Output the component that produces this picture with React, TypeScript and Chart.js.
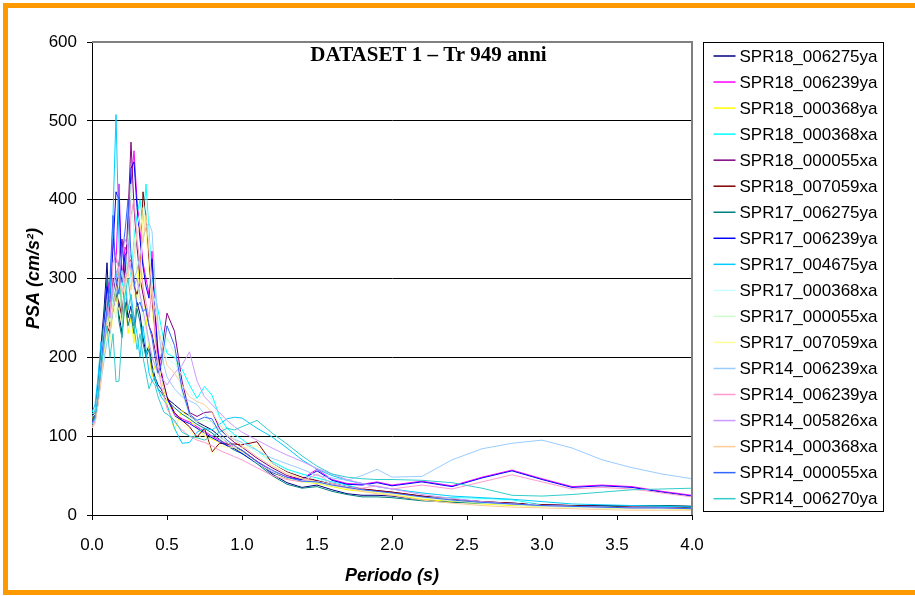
import { useEffect, useRef } from "react";
import { Chart, registerables } from "chart.js";
Chart.register(...registerables);

const chartTitle = "DATASET 1 – Tr 949 anni";
const xTitle = "Periodo (s)";
const yTitle = "PSA (cm/s²)";

const periods = [
  0, 0.02, 0.04, 0.06, 0.08, 0.1, 0.12, 0.14, 0.16, 0.18, 0.2, 0.22, 0.24, 0.26, 0.28, 0.3, 0.32, 0.34, 0.36, 0.38, 0.4, 0.42, 0.44, 0.46, 0.48, 0.5,
  0.55, 0.6, 0.65, 0.7, 0.75, 0.8, 0.85, 0.9, 0.95, 1.0,
  1.1, 1.2, 1.3, 1.4, 1.5, 1.6, 1.7, 1.8, 1.9, 2.0,
  2.2, 2.4, 2.6, 2.8, 3.0, 3.2, 3.4, 3.6, 3.8, 4.0,
];

const seriesNames = [
  "SPR18_006275ya", "SPR18_006239ya", "SPR18_000368ya", "SPR18_000368xa", "SPR18_000055xa", "SPR18_007059xa",
  "SPR17_006275ya", "SPR17_006239ya", "SPR17_004675ya", "SPR17_000368xa", "SPR17_000055xa", "SPR17_007059xa",
  "SPR14_006239xa", "SPR14_006239ya", "SPR14_005826xa", "SPR14_000368xa", "SPR14_000055xa", "SPR14_006270ya",
];

const seriesColors = [
  "#000080", "#FF00FF", "#FFFF00", "#00FFFF", "#800080", "#800000",
  "#008080", "#0000FF", "#00CCFF", "#CCFFFF", "#CCFFCC", "#FFFF99",
  "#99CCFF", "#FF99CC", "#CC99FF", "#FFCC99", "#3366FF", "#33CCCC",
];

const spr18_006275ya = [125,130,165,215,260,320,240,275,300,255,230,285,250,265,240,270,255,225,205,215,190,175,165,160,152,148, 140,132,126,118,113,108,100,92,86,82, 68,52,41,35,38,32,27,25,25,24, 19,17,16,15,13,12,12,12,12,11];
const spr18_006239ya = [118,125,150,190,240,300,280,350,320,420,300,340,330,420,462,400,360,320,300,280,335,260,210,185,165,150, 128,122,118,112,106,100,95,90,86,80, 68,55,48,46,58,45,40,39,42,38, 43,37,48,57,46,36,38,36,30,25];
const spr18_000368ya = [122,128,150,180,220,260,240,290,270,320,250,280,230,250,218,280,330,290,250,210,175,190,184,175,159,140, 108,133,120,110,100,96,92,88,84,80, 66,54,46,42,40,36,32,30,28,26, 20,17,14,12,11,10,9,8,8,7];
const spr18_000368xa = [128,132,160,200,240,270,250,280,300,320,290,310,330,300,350,380,400,370,420,360,300,280,260,240,220,205, 200,185,165,148,163,152,125,110,102,96, 82,68,58,52,47,42,38,33,30,28, 23,22,21,19,13,11,10,9,9,8];
const spr18_000055xa = [120,128,155,195,230,260,250,300,280,320,350,300,380,473,390,340,300,280,260,240,230,210,190,200,230,256, 233,170,130,125,130,131,110,100,92,86, 72,60,50,45,44,40,36,33,31,29, 24,20,17,15,13,12,11,10,10,9];
const spr18_007059xa = [118,125,150,180,215,240,230,260,280,270,250,300,320,324,290,280,294,410,380,320,270,230,200,180,165,150, 130,120,112,99,110,80,91,90,90,89, 93,66,55,48,44,40,36,33,31,29, 24,20,17,15,13,12,11,10,10,9];
const spr17_006275ya = [120,126,160,205,250,300,230,265,290,245,225,270,240,255,230,262,245,218,200,210,185,170,160,156,150,145, 136,128,122,115,110,104,96,88,82,78, 65,50,39,34,36,30,26,23,23,22, 18,16,15,14,12,11,11,12,12,11];
const spr17_006239ya = [116,122,148,185,235,290,270,340,410,400,295,330,335,440,448,390,350,315,290,275,325,255,205,180,160,148, 126,120,116,110,104,98,93,88,84,78, 66,54,47,45,56,44,39,38,41,37, 42,36,47,56,45,35,37,35,29,24];
const spr17_004675ya = [130,140,175,220,200,250,280,380,508,350,240,300,260,280,250,230,200,240,210,180,170,175,160,150,145,140, 110,91,92,105,110,108,115,122,124,123, 110,99,85,70,58,50,44,40,36,33, 28,24,22,20,17,14,13,12,11,10];
const spr17_000368xa = [125,128,155,195,235,265,245,275,295,315,285,300,320,295,340,365,385,360,400,350,290,270,250,232,212,198, 192,178,158,142,156,146,120,106,98,92, 79,66,56,50,45,40,36,32,29,27, 22,21,20,18,12,10,9,9,8,8];
const spr17_000055xa = [112,118,140,175,205,235,225,270,250,290,310,275,340,420,350,305,270,250,235,215,205,190,175,180,205,225, 205,155,125,118,120,118,100,92,86,80, 66,55,47,42,41,37,34,31,29,27, 22,18,15,13,11,10,9,9,8,8];
const spr17_007059xa = [115,120,145,175,205,230,220,250,270,260,240,290,305,310,280,270,285,390,360,305,260,220,195,175,160,145, 125,116,108,96,105,78,88,86,86,85, 88,63,52,46,42,38,34,31,29,27, 22,19,16,14,12,11,10,9,9,8];
const spr14_006239xa = [112,118,140,170,195,220,230,260,280,300,310,290,320,330,300,310,330,350,365,370,360,300,240,210,190,175, 160,150,145,140,128,118,108,100,96,92, 82,72,65,58,50,47,44,50,58,48, 49,70,84,91,95,85,70,60,52,46];
const spr14_006239ya = [112,118,140,175,220,270,250,320,330,310,280,300,310,380,400,350,320,290,270,250,290,230,190,165,150,135, 118,108,100,95,92,88,82,78,74,70, 60,50,45,42,52,40,35,34,37,33, 38,33,42,51,42,33,35,33,28,23];
const spr14_005826xa = [115,120,145,180,220,260,250,290,310,300,330,350,340,310,290,300,280,260,240,220,200,190,180,175,170,165, 180,190,207,170,150,140,130,120,112,105, 95,85,76,68,59,52,45,40,36,33, 26,21,17,14,12,11,10,9,9,8];
const spr14_000368xa = [110,115,140,170,210,245,235,265,285,300,280,290,310,285,330,355,370,345,380,335,280,260,240,222,205,190, 180,165,150,144,140,130,115,102,95,88, 74,62,52,46,42,38,34,30,27,25, 19,15,12,10,9,8,7,6,6,6];
const spr14_000055xa = [118,124,150,190,230,260,300,380,300,280,330,360,400,330,300,264,270,258,262,240,225,200,180,190,215,240, 215,160,128,120,124,122,104,95,88,82, 68,57,48,43,42,38,35,32,30,28, 23,19,16,14,12,11,10,9,9,8];
const spr14_006270ya = [115,122,150,185,215,240,200,230,169,170,230,280,300,270,240,210,230,200,180,160,170,165,150,140,130,128, 120,105,100,98,95,100,105,110,108,112, 120,104,90,75,62,52,48,46,45,45, 44,41,34,25,24,26,29,32,33,34];

const seriesValues = [
  spr18_006275ya, spr18_006239ya, spr18_000368ya, spr18_000368xa, spr18_000055xa, spr18_007059xa,
  spr17_006275ya, spr17_006239ya, spr17_004675ya, spr17_000368xa, spr17_000055xa, spr17_007059xa,
  spr14_006239xa, spr14_006239ya, spr14_005826xa, spr14_000368xa, spr14_000055xa, spr14_006270ya,
];

const FONT = '"Liberation Sans", Arial, sans-serif';

const decorPlugin = {
  id: "decor",
  afterDraw(chart: any) {
    const ctx = chart.ctx as CanvasRenderingContext2D;
    const a = chart.chartArea;
    ctx.save();
    ctx.strokeStyle = "#808080";
    ctx.lineWidth = 2;
    ctx.beginPath();
    ctx.moveTo(a.left, a.top);
    ctx.lineTo(a.right, a.top);
    ctx.lineTo(a.right, a.bottom);
    ctx.stroke();
    ctx.fillStyle = "#000";
    ctx.font = 'bold 21px "Liberation Serif", "Times New Roman", serif';
    ctx.textAlign = "center";
    ctx.textBaseline = "middle";
    ctx.fillText(chartTitle, a.left + 336.5, a.top + 14);
    const lx = a.right + 11.5;
    const ly = a.top + 0.5;
    ctx.strokeStyle = "#000";
    ctx.lineWidth = 1;
    ctx.strokeRect(lx, ly, 180, 469);
    ctx.font = "17px " + FONT;
    ctx.textAlign = "left";
    ctx.textBaseline = "middle";
    seriesNames.forEach((name, i) => {
      const y = a.top + 14 + i * 26.04;
      ctx.strokeStyle = seriesColors[i];
      ctx.lineWidth = 1.5;
      ctx.beginPath();
      ctx.moveTo(lx + 10, y);
      ctx.lineTo(lx + 32, y);
      ctx.stroke();
      ctx.fillStyle = "#000";
      ctx.fillText(name, lx + 36, y + 1);
    });
    ctx.restore();
  },
};

export default function App() {
  const ref = useRef<HTMLCanvasElement>(null);
  useEffect(() => {
    const datasets = seriesNames.map((name, i) => ({
      label: name,
      data: periods.map((p, k) => ({ x: p, y: seriesValues[i][k] })),
      borderColor: seriesColors[i],
      backgroundColor: seriesColors[i],
      borderWidth: 1,
      pointRadius: 0,
      tension: 0,
      fill: false,
      order: seriesNames.length - i,
    }));
    const chart = new Chart(ref.current as HTMLCanvasElement, {
      type: "line",
      data: { datasets },
      plugins: [decorPlugin],
      options: {
        responsive: false,
        animation: false,
        devicePixelRatio: 1,
        layout: { padding: { top: 42, right: 223, left: 0, bottom: 0 } },
        plugins: { legend: { display: false }, tooltip: { enabled: false }, title: { display: false } },
        scales: {
          x: {
            type: "linear",
            min: 0,
            max: 4,
            afterFit: (s: any) => { s.height = 81; },
            ticks: {
              stepSize: 0.5,
              color: "#000",
              padding: 15,
              maxRotation: 0,
              font: { family: FONT, size: 17 },
              callback: (v: any) => Number(v).toFixed(1),
            },
            grid: { drawOnChartArea: false, tickLength: 5, color: "#000", tickColor: "#000" },
            border: { color: "#000", width: 1 },
            title: {
              display: true,
              text: xTitle,
              color: "#000",
              font: { family: FONT, size: 18, weight: "bold", style: "italic" },
              padding: { top: 0, bottom: 9 },
            },
          },
          y: {
            min: 0,
            max: 600,
            afterFit: (s: any) => { s.width = 92; },
            ticks: { stepSize: 100, color: "#000", padding: 10, font: { family: FONT, size: 17 } },
            grid: {
              tickLength: 5,
              color: (c: any) => (c.tick && c.tick.value === 600 ? "#808080" : "#000"),
              tickColor: "#000",
            },
            border: { color: "#000", width: 1 },
            title: {
              display: true,
              text: yTitle,
              color: "#000",
              font: { family: FONT, size: 18, weight: "bold", style: "italic" },
              padding: { top: 23, bottom: 0 },
            },
          },
        },
      } as any,
    });
    return () => chart.destroy();
  }, []);
  return (
    <div style={{ position: "fixed", left: 0, top: 0, width: 915, height: 596, overflow: "hidden", background: "#fff" }}>
      <div style={{ position: "absolute", left: 3, top: 3, width: 1100, height: 592, boxSizing: "border-box", borderTop: "5px solid #FF9900", borderLeft: "5px solid #FF9900", borderBottom: "5px solid #FF9900" }} />
      <canvas ref={ref} width={915} height={596} style={{ position: "absolute", left: 0, top: 0, width: 915, height: 596 }} />
    </div>
  );
}
